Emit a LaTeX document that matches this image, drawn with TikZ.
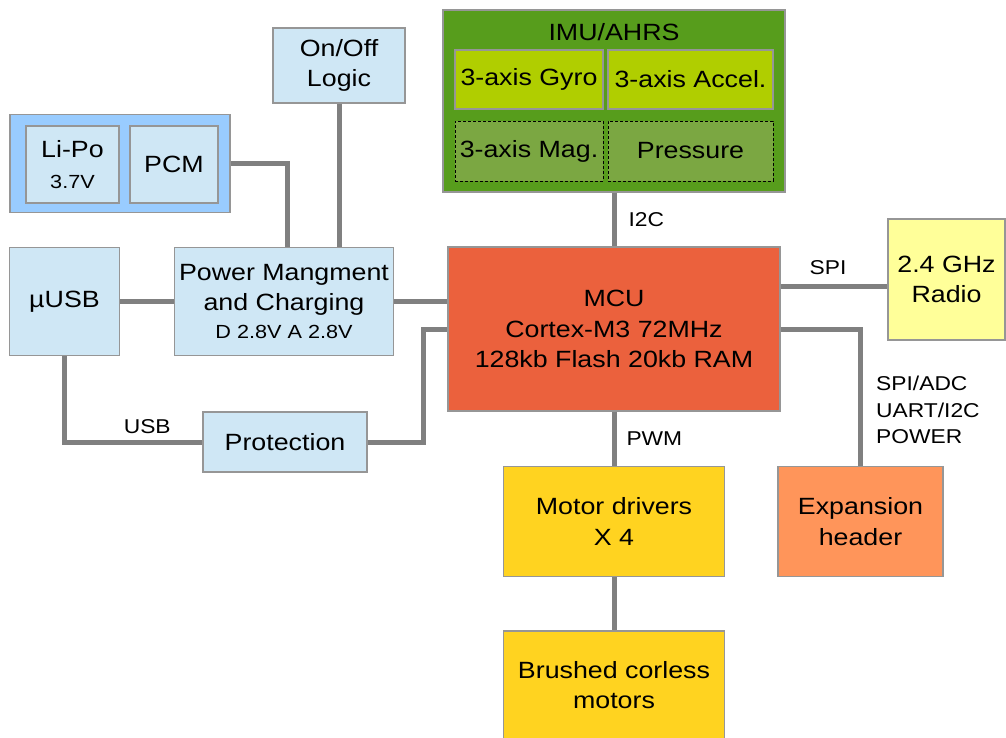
\documentclass[tikz,border=0pt]{standalone}
\usepackage{fontspec}
\setmainfont{Liberation Sans}[FakeStretch=1.14]
\usepackage{tikz}
\usetikzlibrary{positioning, calc}
\usepackage{xcolor}
\definecolor{paleblue}{RGB}{207,231,245}
\definecolor{battblue}{RGB}{153,204,255}
\definecolor{imugreen}{RGB}{87,157,28}
\definecolor{sensgreen}{RGB}{176,206,0}
\definecolor{optgreen}{RGB}{123,167,66}
\definecolor{mcured}{RGB}{235,97,61}
\definecolor{radioyellow}{RGB}{255,255,153}
\definecolor{exporange}{RGB}{255,149,90}
\definecolor{motoryellow}{RGB}{255,211,32}
\definecolor{wiregray}{RGB}{128,128,128}
\definecolor{edgegray}{RGB}{150,150,150}
\newcommand\bigtxt{\fontsize{23.5}{30.5}\selectfont}
\newcommand\smalltxt{\fontsize{19}{24}\selectfont}
\newcommand\lbltxt{\fontsize{20}{26.5}\selectfont}

\begin{document}
\begin{tikzpicture}[x=1pt, y=-1pt,
    blk/.style={draw=edgegray, line width=1.2pt, align=center, inner sep=0pt, font=\bigtxt},
    wire/.style={draw=wiregray, line width=5pt},
    lbl/.style={font=\lbltxt, inner sep=4pt}]
  \useasboundingbox[fill=white] (0,0) rectangle (1006,738);

  % power side
  \node[blk, fill=battblue, minimum width=220pt, minimum height=98pt] (batt) at (120,163.5) {};
  \node[blk, fill=paleblue, minimum width=93pt, minimum height=77pt] (lipo) at (72.5,164.5) {Li-Po\\{\smalltxt 3.7V}};
  \node[blk, fill=paleblue, minimum width=88pt, minimum height=77pt] (pcm) at (174,164.5) {PCM};
  \node[blk, fill=paleblue, minimum width=132pt, minimum height=75pt] (onoff) at (339,65.5) {On/Off\\Logic};
  \node[blk, fill=paleblue, minimum width=219pt, minimum height=108pt] (power) at (284,301.5) {Power Mangment\\and Charging\\[-3pt]{\smalltxt D 2.8V A 2.8V}};
  \node[blk, fill=paleblue, minimum width=110pt, minimum height=108pt] (usb) at (64.5,301.5) {µUSB};
  \node[blk, fill=paleblue, minimum width=164pt, minimum height=60pt] (prot) at (285,442) {Protection};

  % sensors
  \node[blk, fill=imugreen, minimum width=342pt, minimum height=182pt] (imu) at (614,101) {};
  \node[font=\bigtxt, inner sep=0pt] (imutitle) at (614,32) {IMU/AHRS};
  \node[blk, fill=sensgreen, minimum width=148pt, minimum height=59pt] (gyro) at (529,79.5) {3-axis Gyro};
  \node[blk, fill=sensgreen, minimum width=165pt, minimum height=59pt] (accel) at (690.5,79.5) {3-axis Accel.};
  \node[blk, fill=optgreen, draw=black, densely dashed, line width=0.8pt, minimum width=148pt, minimum height=60pt] (mag) at (529,151) {3-axis Mag.};
  \node[blk, fill=optgreen, draw=black, densely dashed, line width=0.8pt, minimum width=165pt, minimum height=60pt] (press) at (690.5,151) {Pressure};

  % core and outputs
  \node[blk, fill=mcured, minimum width=332pt, minimum height=164pt] (mcu) at (614,329) {MCU\\Cortex-M3 72MHz\\128kb Flash 20kb RAM};
  \node[blk, fill=radioyellow, minimum width=117pt, minimum height=121pt] (radio) at (946.5,279.5) {2.4 GHz\\Radio};
  \node[blk, fill=exporange, minimum width=165pt, minimum height=110pt] (exp) at (860.5,521.5) {Expansion\\header};
  \node[blk, fill=motoryellow, minimum width=221pt, minimum height=110pt] (motor) at (614,521.5) {Motor drivers\\X 4};
  \node[blk, fill=motoryellow, minimum width=221pt, minimum height=108pt] (brushed) at (614,685) {Brushed corless\\motors};

  % wiring
  \draw[wire] (batt.east) -| ([xshift=3pt]power.north);
  \draw[wire] (onoff.south) -- (onoff.south |- power.north);
  \draw[wire] (usb.east) -- (power.west);
  \draw[wire] (power.east) -- (power.east -| mcu.west);
  \draw[wire] (usb.south) |- (prot.west) node[lbl, above, pos=0.8, yshift=2pt] {USB};
  \draw[wire] (prot.east) -- ++(56,0) |- (mcu.west);
  \draw[wire] (imu.south) -- (mcu.north) node[lbl, right, midway, xshift=8pt] {I2C};
  \draw[wire] (mcu.east |- 0,286) -- (radio.west |- 0,286) node[lbl, above, midway, xshift=-6pt, yshift=5pt] {SPI};
  \draw[wire] (mcu.east) -| (exp.north);
  \draw[wire] (mcu.south) -- (motor.north) node[lbl, right, midway, xshift=6pt] {PWM};
  \draw[wire] (motor.south) -- (brushed.north);
  \node[lbl, align=left, anchor=west] (explbl) at (872,410) {SPI/ADC\\UART/I2C\\POWER};
\end{tikzpicture}
\end{document}
